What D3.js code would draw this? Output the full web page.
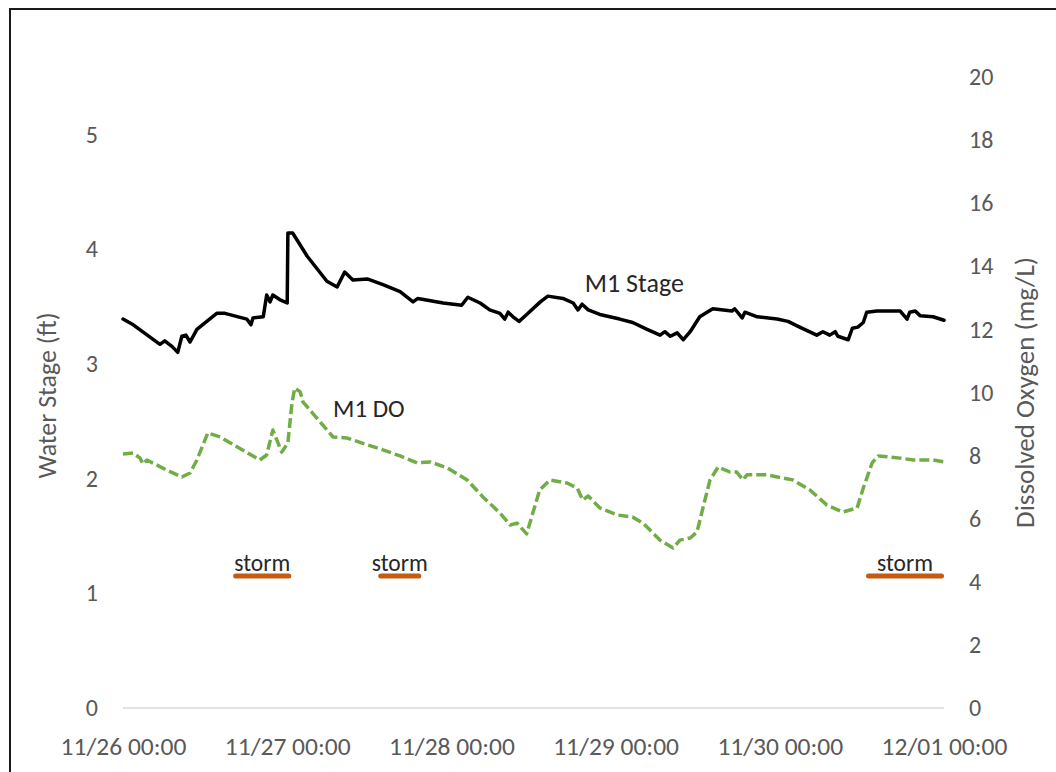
<!DOCTYPE html>
<html>
<head>
<meta charset="utf-8">
<script src="https://cdn.jsdelivr.net/npm/d3@7"></script>
<style>
  html, body { margin: 0; padding: 0; background: #fff; }
  svg { display: block; }
  text { font-family: Carlito, Calibri, Lato, sans-serif; }
</style>
</head>
<body>
<script>
// Hours after 11/26 00:00 and water stage (ft) for station M1
const stageHours = [0, 1.5, 5.4, 6.1, 7.2, 8.0, 8.6, 9.2, 9.8, 10.8, 13.7, 14.9, 18.1, 18.7, 19.0, 20.5, 21.0, 21.5, 21.9, 22.9,
  24.0, 24.1, 24.8, 26.9, 29.8, 31.3, 32.4, 33.6, 35.7, 38.0, 40.5, 42.4, 43.1, 46.8, 49.5, 50.4, 52.2, 53.6, 55.1, 55.8,
  56.3, 57.0, 57.9, 59.0, 61.0, 62.1, 64.3, 65.8, 66.5, 67.1, 68.0, 69.7, 72.6, 74.5, 76.6, 78.5, 79.2, 80.0, 81.0, 81.9,
  82.9, 84.3, 86.2, 89.0, 89.4, 90.5, 90.9, 92.7, 95.6, 97.2, 98.9, 101.4, 102.3, 103.3, 104.1, 104.5, 106.0, 106.6, 107.4, 108.2,
  108.7, 110.2, 113.6, 114.6, 115.0, 115.8, 116.5, 118.4, 120.0];
const stageFt = [3.39, 3.34, 3.17, 3.20, 3.15, 3.10, 3.24, 3.25, 3.19, 3.30, 3.44, 3.44, 3.39, 3.34, 3.40, 3.41, 3.60, 3.54, 3.60, 3.56,
  3.53, 4.14, 4.14, 3.94, 3.72, 3.67, 3.80, 3.73, 3.74, 3.69, 3.63, 3.54, 3.57, 3.53, 3.51, 3.58, 3.53, 3.47, 3.44, 3.39,
  3.45, 3.41, 3.37, 3.43, 3.54, 3.59, 3.57, 3.53, 3.47, 3.52, 3.47, 3.43, 3.39, 3.36, 3.30, 3.25, 3.28, 3.24, 3.27, 3.21,
  3.28, 3.41, 3.48, 3.46, 3.48, 3.40, 3.45, 3.41, 3.39, 3.37, 3.32, 3.25, 3.28, 3.25, 3.28, 3.24, 3.21, 3.31, 3.32, 3.36,
  3.45, 3.46, 3.46, 3.39, 3.45, 3.46, 3.42, 3.41, 3.38];

// Hours after 11/26 00:00 and dissolved oxygen (mg/L) for station M1
const doHours = [0, 1.5, 2.5, 2.9, 3.5, 6.4, 8.6, 9.8, 10.8, 12.4, 14.2, 20.0, 21.0, 21.9, 22.5, 23.2, 24.1, 24.7, 25.1, 25.9,
  26.3, 30.7, 32.7, 38.0, 40.5, 43.0, 44.9, 47.4, 50.3, 52.6, 55.1, 56.6, 57.6, 59.0, 59.9, 60.9, 62.4, 64.9, 66.4, 67.2,
  68.0, 69.7, 72.2, 74.5, 76.0, 78.5, 80.4, 81.4, 82.9, 83.9, 84.8, 85.8, 87.0, 88.7, 89.7, 90.6, 91.2, 94.1, 97.9, 100.4,
  102.9, 105.2, 107.3, 108.2, 109.5, 110.4, 113.6, 115.5, 118.4, 120.0];
const doMgL = [8.05, 8.08, 7.92, 7.73, 7.86, 7.54, 7.32, 7.45, 7.86, 8.72, 8.59, 7.86, 8.02, 8.81, 8.49, 8.11, 8.40, 9.67, 10.14, 10.02,
  9.70, 8.59, 8.56, 8.18, 7.99, 7.77, 7.80, 7.61, 7.23, 6.69, 6.18, 5.80, 5.86, 5.52, 6.18, 6.91, 7.23, 7.13, 6.97, 6.59,
  6.72, 6.34, 6.12, 6.05, 5.86, 5.32, 5.07, 5.32, 5.39, 5.58, 6.37, 7.23, 7.64, 7.48, 7.48, 7.23, 7.39, 7.39, 7.23, 6.91,
  6.43, 6.21, 6.34, 6.97, 7.77, 7.99, 7.92, 7.86, 7.86, 7.80];

// Storm periods (hours after 11/26 00:00), drawn at a fixed stage level
const stormStart = [16.1, 37.3, 108.6];
const stormEnd = [24.6, 43.6, 120.0];
const stormLabel = ["storm", "storm", "storm"];
const stormLevelFt = 1.15;

// Axis ticks
const stageTicks = [0, 1, 2, 3, 4, 5];
const doTicks = [0, 2, 4, 6, 8, 10, 12, 14, 16, 18, 20];

const W = 1056, H = 772;
const t0 = new Date(2018, 10, 26, 0, 0);
const atHour = h => new Date(t0.getTime() + h * 3600 * 1000);

const svg = d3.select("body").append("svg").attr("width", W).attr("height", H);

const x = d3.scaleTime().domain([t0, atHour(120)]).range([123, 944]);
const yL = d3.scaleLinear().domain([0, 5.5]).range([708, 77]);
const yR = d3.scaleLinear().domain([0, 20]).range([708, 77]);

// outer frame
svg.append("rect").attr("x", 10).attr("y", 9).attr("width", 1100).attr("height", 820)
  .attr("fill", "none").attr("stroke", "#1a1a1a").attr("stroke-width", 2);

// baseline at zero
svg.append("line").attr("x1", x.range()[0]).attr("x2", x.range()[1])
  .attr("y1", yL(0)).attr("y2", yL(0)).attr("stroke", "#d9d9d9").attr("stroke-width", 1.5);

const tickColor = "#595959";

function styleAxis(size) {
  return g => {
    g.select(".domain").remove();
    g.selectAll("line").remove();
    g.selectAll("text").attr("fill", tickColor).style("font-size", size)
      .style("font-family", "Carlito, Calibri, Lato, sans-serif");
  };
}

svg.append("g").attr("transform", `translate(${x.range()[0]},0)`)
  .call(d3.axisLeft(yL).tickValues(stageTicks).tickSize(0).tickPadding(25).tickFormat(d3.format("d")))
  .call(styleAxis("24px"));

svg.append("g").attr("transform", `translate(${x.range()[1]},0)`)
  .call(d3.axisRight(yR).tickValues(doTicks).tickSize(0).tickPadding(25).tickFormat(d3.format("d")))
  .call(styleAxis("24px"));

svg.append("g").attr("transform", `translate(0,${yL(0)})`)
  .call(d3.axisBottom(x).ticks(d3.timeDay.every(1)).tickSize(0).tickPadding(29).tickFormat(d3.timeFormat("%m/%d %H:%M")))
  .call(styleAxis("25.5px"));

// axis titles
svg.append("text")
  .attr("transform", `translate(47,${(yL.range()[0] + yL.range()[1]) / 2 + 3}) rotate(-90)`)
  .attr("text-anchor", "middle").attr("dy", "0.35em")
  .attr("fill", tickColor).style("font-size", "26px")
  .text("Water Stage (ft)");

svg.append("text")
  .attr("transform", `translate(1025,${(yR.range()[0] + yR.range()[1]) / 2}) rotate(-90)`)
  .attr("text-anchor", "middle").attr("dy", "0.35em")
  .attr("fill", tickColor).style("font-size", "27px")
  .text("Dissolved Oxygen (mg/L)");

// series
const stage = stageHours.map((h, i) => ({ t: atHour(h), v: stageFt[i] }));
const dox = doHours.map((h, i) => ({ t: atHour(h), v: doMgL[i] }));

svg.append("path").datum(dox)
  .attr("fill", "none").attr("stroke", "#70AD47").attr("stroke-width", 3.5)
  .attr("stroke-dasharray", "10,4").attr("stroke-linejoin", "round")
  .attr("d", d3.line().x(d => x(d.t)).y(d => yR(d.v)));

svg.append("path").datum(stage)
  .attr("fill", "none").attr("stroke", "#000").attr("stroke-width", 3.5)
  .attr("stroke-linejoin", "round").attr("stroke-linecap", "round")
  .attr("d", d3.line().x(d => x(d.t)).y(d => yL(d.v)));

// storm periods
const storms = stormStart.map((s, i) => ({ s: atHour(s), e: atHour(stormEnd[i]), label: stormLabel[i] }));
const sg = svg.append("g");
sg.selectAll("line").data(storms).join("line")
  .attr("x1", d => x(d.s) + 2.5).attr("x2", d => x(d.e) - 2.5)
  .attr("y1", yL(stormLevelFt)).attr("y2", yL(stormLevelFt))
  .attr("stroke", "#C55A11").attr("stroke-width", 5).attr("stroke-linecap", "round");
sg.selectAll("text").data(storms).join("text")
  .attr("x", d => (x(d.s) + x(d.e)) / 2).attr("y", yL(stormLevelFt) - 5)
  .attr("text-anchor", "middle").attr("fill", "#262626").style("font-size", "23.5px")
  .text(d => d.label);

// series labels
svg.append("text").attr("x", x(atHour(67.5))).attr("y", yL(3.63))
  .attr("fill", "#262626").style("font-size", "26px").text("M1 Stage");
svg.append("text").attr("x", x(atHour(30.7))).attr("y", yR(9.22))
  .attr("fill", "#262626").style("font-size", "25px").text("M1 DO");
</script>
</body>
</html>
